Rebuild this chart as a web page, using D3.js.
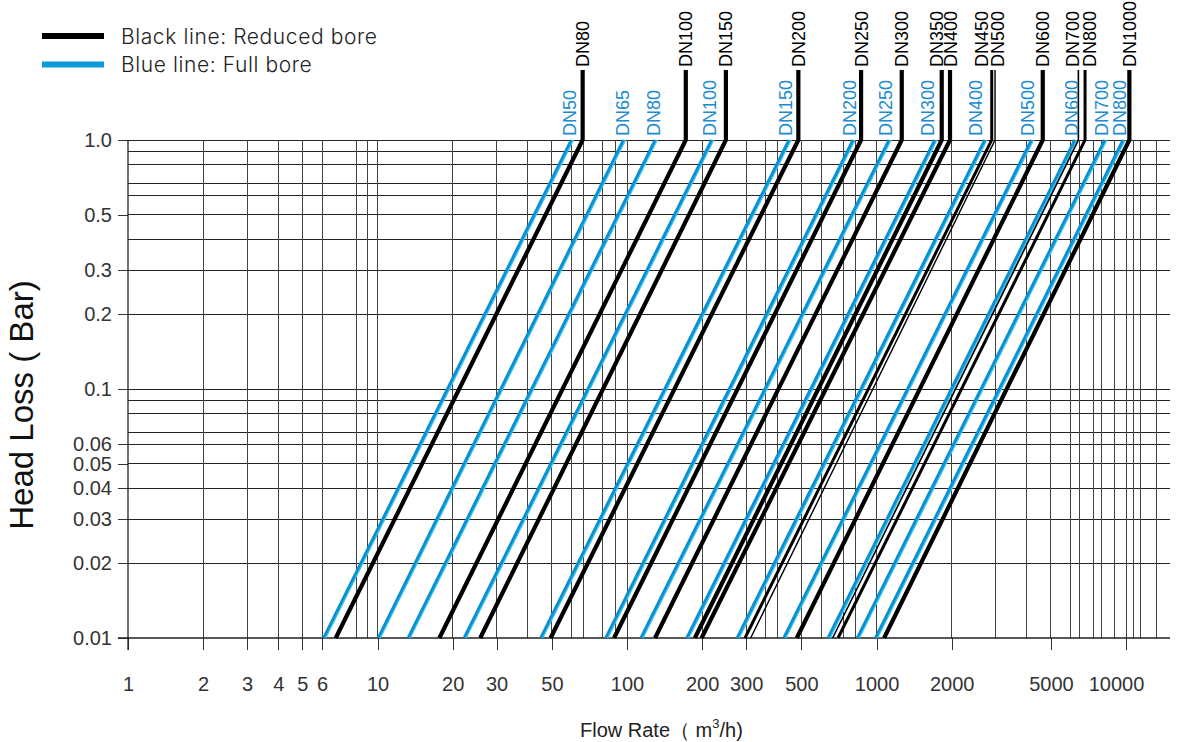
<!DOCTYPE html>
<html>
<head>
<meta charset="utf-8">
<script src="https://cdn.jsdelivr.net/npm/d3@7"></script>
<style>
  body { margin: 0; background: #fff; }
  svg { display: block; }
  .axis text { font-family: "Liberation Sans", Arial, sans-serif; fill: #333; }
</style>
</head>
<body>
<div id="container"></div>
<script>
/* DATA */
// flow rate (m3/h) at 0.01 bar and at 1.0 bar
const fullNames = ["DN50","DN65","DN80","DN100","DN150","DN200","DN250","DN300","DN400","DN500","DN600","DN700","DN800"];
const fullQLow  = [6.1, 10.1, 13.3, 22.3, 45.2, 82.4, 114, 174, 277, 426, 641, 840, 993];
const fullQHigh = [60, 97, 130, 219, 447, 807, 1125, 1716, 2722, 4188, 6246, 8240, 9755];

const reducedNames = ["DN80","DN100","DN150","DN200","DN250","DN300","DN350","DN400","DN450","DN500","DN600","DN700","DN800","DN1000"];
const reducedQLow  = [6.8, 17.7, 25.8, 49.4, 88.7, 129.5, 187, 199, 297, 313, 479, 667, 701, 1072];
const reducedQHigh = [66.4, 172, 249, 486, 867, 1262, 1825, 1970, 2895, 2985, 4636, 6440, 6850, 10310];

const qTickLabels = [1, 2, 3, 4, 5, 6, 10, 20, 30, 50, 100, 200, 300, 500, 1000, 2000, 5000, 10000];
const hTickLabels = [1, 0.5, 0.3, 0.2, 0.1, 0.06, 0.05, 0.04, 0.03, 0.02, 0.01];
const qGrid = [2, 3, 4, 5, 6, 8.2, 9.1, 10, 20, 30, 40, 50, 60, 67, 80, 90, 100, 200, 300, 360, 400, 500, 600, 740, 820,
               1000, 2000, 3000, 4000, 5000, 6000, 6500, 7400, 8000, 9000, 10000, 10700, 11450, 13300];
const hGrid = [1, 0.9, 0.8, 0.67, 0.6, 0.5, 0.4, 0.3, 0.2, 0.1, 0.09, 0.08, 0.067, 0.06, 0.05, 0.04, 0.03, 0.02];

/* STYLE */
const black = "#000";
const blue = "#0a8fd3";
const cyan = "#36c9f3";
const reducedWidth = { DN450: 3, DN500: 1.4, DN700: 1.6, DN800: 3 };
const reducedNudge = { DN350: -5, DN450: -10, DN500: 2, DN700: -5.5, DN800: 4 };
const fullNudge = { DN50: 2, DN65: 3, DN80: 2, DN100: 2, DN400: -6, DN300: -4 };

const width = 1198, height = 742;
const xLeft = 128, xRight = 1170, yTop = 140, yBottom = 638;
const stemTop = 70;

/* SCALES */
const x = d3.scaleLog().domain([1, 15000]).range([xLeft, xRight]);
const y = d3.scaleLog().domain([0.01, 1]).range([yBottom, yTop]);

const svg = d3.select('#container')
  .append('svg')
  .attr('width', width)
  .attr('height', height);

/* GRID */
svg.append('g')
  .selectAll('line')
  .data(hGrid)
  .join('line')
  .attr('x1', x(1)).attr('x2', xRight)
  .attr('y1', d => y(d)).attr('y2', d => y(d))
  .attr('stroke', '#222').attr('stroke-width', 1)
  .attr('shape-rendering', 'crispEdges');

svg.append('g')
  .selectAll('line')
  .data(qGrid)
  .join('line')
  .attr('x1', d => x(d)).attr('x2', d => x(d))
  .attr('y1', yTop).attr('y2', yBottom)
  .attr('stroke', '#444').attr('stroke-width', 1)
  .attr('shape-rendering', 'crispEdges');

/* AXES */
const xAxis = d3.axisBottom(x)
  .tickValues(qTickLabels)
  .tickFormat(d => String(d))
  .tickSize(12)
  .tickPadding(27);

svg.append('g')
  .attr('class', 'axis')
  .attr('transform', `translate(0,${yBottom})`)
  .call(xAxis)
  .call(g => g.select('.domain').remove())
  .call(g => g.selectAll('.tick line').attr('stroke', '#333').attr('shape-rendering', 'crispEdges'))
  .call(g => g.selectAll('.tick text').attr('font-size', 20)
    .attr('dx', d => d === 10000 ? -10 : 0));

const yAxis = d3.axisLeft(y)
  .tickValues(hTickLabels)
  .tickFormat(d => d === 1 ? "1.0" : String(d))
  .tickSize(10)
  .tickPadding(6);

svg.append('g')
  .attr('class', 'axis')
  .attr('transform', `translate(${xLeft},0)`)
  .call(yAxis)
  .call(g => g.select('.domain').remove())
  .call(g => g.selectAll('.tick line').attr('stroke', '#333').attr('shape-rendering', 'crispEdges'))
  .call(g => g.selectAll('.tick text').attr('font-size', 20));

// axis lines, running past the origin by a tick length
svg.append('line')
  .attr('x1', xLeft - 10).attr('x2', xRight)
  .attr('y1', yBottom).attr('y2', yBottom)
  .attr('stroke', '#222').attr('stroke-width', 1.3);
svg.append('line')
  .attr('x1', xLeft).attr('x2', xLeft)
  .attr('y1', yTop).attr('y2', yBottom + 12)
  .attr('stroke', '#222').attr('stroke-width', 1.3);

/* LINES */
const line = d3.line().x(d => x(d[0])).y(d => y(d[1]));

const fullData = fullNames.map((n, i) => ({ name: n, lo: fullQLow[i], hi: fullQHigh[i] }));
const reducedData = reducedNames.map((n, i) => ({ name: n, lo: reducedQLow[i], hi: reducedQHigh[i] }));

svg.append('g')
  .selectAll('path')
  .data(fullData)
  .join('path')
  .attr('d', d => line([[d.lo, 0.01], [d.hi, 1]]))
  .attr('fill', 'none')
  .attr('stroke', blue)
  .attr('stroke-width', 3.6);

svg.append('g')
  .attr('transform', 'translate(1.8,0)')
  .selectAll('path')
  .data(fullData)
  .join('path')
  .attr('d', d => line([[d.lo, 0.01], [d.hi, 1]]))
  .attr('fill', 'none')
  .attr('stroke', cyan)
  .attr('stroke-width', 1.2);

svg.append('g')
  .selectAll('path')
  .data(reducedData)
  .join('path')
  .attr('d', d => line([[d.lo, 0.01], [d.hi, 1], [d.hi, y.invert(stemTop)]]))
  .attr('fill', 'none')
  .attr('stroke', black)
  .attr('stroke-linejoin', 'miter')
  .attr('stroke-width', d => reducedWidth[d.name] || 4.2);

/* DN LABELS */
svg.append('g')
  .selectAll('text')
  .data(fullData)
  .join('text')
  .attr('transform', d => `translate(${x(d.hi) - 4 + (fullNudge[d.name] || 0) + 6.5},136) rotate(-90)`)
  .attr('font-family', '"Liberation Sans", Arial, sans-serif')
  .attr('font-size', 18)
  .attr('fill', '#1a8bd0')
  .text(d => d.name);

svg.append('g')
  .selectAll('text')
  .data(reducedData)
  .join('text')
  .attr('transform', d => `translate(${x(d.hi) + (reducedNudge[d.name] || 0) + 6.5},${stemTop - 3}) rotate(-90)`)
  .attr('font-family', '"Liberation Sans", Arial, sans-serif')
  .attr('font-size', 18)
  .attr('fill', '#000')
  .text(d => d.name);

/* TITLES */
svg.append('text')
  .attr('transform', 'translate(33,405) rotate(-90)')
  .attr('text-anchor', 'middle')
  .attr('font-family', '"Liberation Sans", Arial, sans-serif')
  .attr('font-size', 33)
  .attr('fill', '#111')
  .text('Head Loss ( Bar)');

const xt = svg.append('text')
  .attr('x', 580).attr('y', 737)
  .attr('font-family', '"Liberation Sans", Arial, sans-serif')
  .attr('font-size', 20)
  .attr('fill', '#222');
xt.append('tspan').text('Flow Rate（ m');
xt.append('tspan').attr('font-size', 13).attr('dy', -9).text('3');
xt.append('tspan').attr('dy', 9).text('/h)');

/* LEGEND */
const legendItems = [
  { label: 'Black line: Reduced bore', color: black },
  { label: 'Blue line: Full bore', color: '#0a9ad9' }
];
const legend = svg.append('g')
  .selectAll('g')
  .data(legendItems)
  .join('g')
  .attr('transform', (d, i) => `translate(42,${36 + i * 28.5})`);
legend.append('line')
  .attr('x1', 0).attr('x2', 62)
  .attr('stroke', d => d.color)
  .attr('stroke-width', 6);
legend.append('text')
  .attr('x', 79).attr('y', 7.5)
  .attr('font-family', 'Inter, "Open Sans", sans-serif')
  .attr('font-weight', 300)
  .attr('font-size', 21)
  .attr('letter-spacing', 0.6)
  .attr('fill', '#222')
  .text(d => d.label);
</script>
</body>
</html>
